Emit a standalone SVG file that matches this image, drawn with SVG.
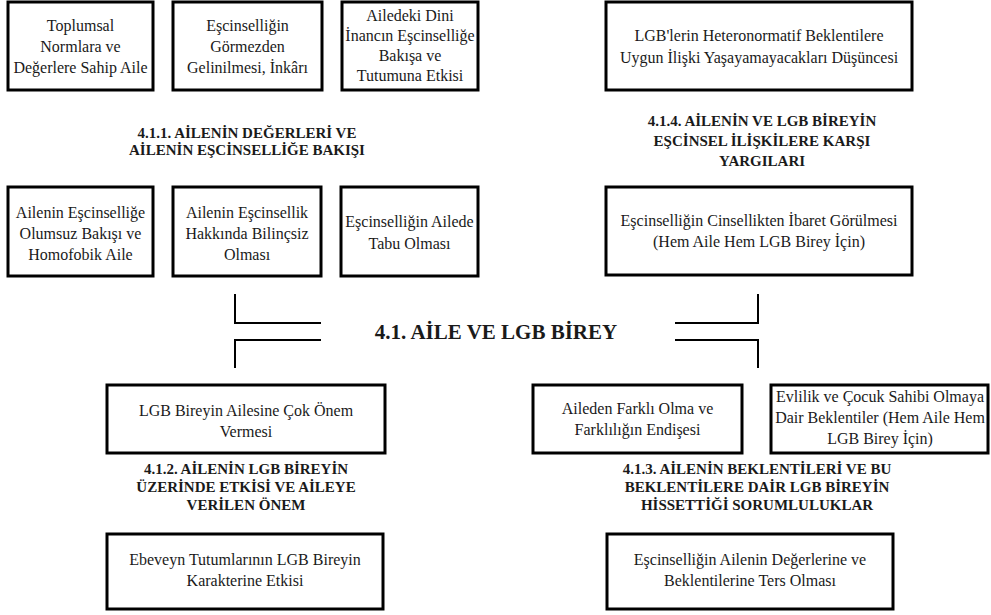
<svg xmlns="http://www.w3.org/2000/svg" width="991" height="615" viewBox="0 0 991 615">
<style>
.box{fill:#fff;stroke:#000;stroke-width:3}
.t{font-family:"Liberation Serif","Times New Roman",serif;font-size:16px;fill:#1a1a1a;text-anchor:middle}
.h{font-family:"Liberation Serif","Times New Roman",serif;font-size:15px;font-weight:bold;fill:#1a1a1a;text-anchor:middle}
.title{font-family:"Liberation Serif","Times New Roman",serif;font-size:21px;font-weight:bold;fill:#1a1a1a;text-anchor:middle}
.c{fill:none;stroke:#000;stroke-width:2}
</style>
<rect width="991" height="615" fill="#fff"/>

<g id="n-toplumsal"><rect class="box" x="8" y="2" width="145" height="88"/>
<text class="t" x="80.5" y="31">Toplumsal</text><text class="t" x="80.5" y="52">Normlara ve</text><text class="t" x="80.5" y="73">Değerlere Sahip Aile</text></g>

<g id="n-gormezden"><rect class="box" x="173" y="2" width="149" height="88"/>
<text class="t" x="247.5" y="31">Eşcinselliğin</text><text class="t" x="247.5" y="52">Görmezden</text><text class="t" x="247.5" y="73">Gelinilmesi, İnkârı</text></g>

<g id="n-dini"><rect class="box" x="342" y="2" width="136" height="88"/>
<text class="t" x="410" y="21">Ailedeki Dini</text><text class="t" x="410" y="41">İnancın Eşcinselliğe</text><text class="t" x="410" y="61">Bakışa ve</text><text class="t" x="410" y="81">Tutumuna Etkisi</text></g>

<g id="n-heteronormatif"><rect class="box" x="606" y="2" width="306" height="88"/>
<text class="t" x="759" y="41">LGB'lerin Heteronormatif Beklentilere</text><text class="t" x="759" y="63">Uygun İlişki Yaşayamayacakları Düşüncesi</text></g>

<g id="h-411"><text class="h" x="247" y="138">4.1.1. AİLENİN DEĞERLERİ VE</text><text class="h" x="247" y="155">AİLENİN EŞCİNSELLİĞE BAKIŞI</text></g>

<g id="h-414"><text class="h" x="762" y="126">4.1.4. AİLENİN VE LGB BİREYİN</text><text class="h" x="762" y="146">EŞCİNSEL İLİŞKİLERE KARŞI</text><text class="h" x="762" y="166">YARGILARI</text></g>

<g id="n-olumsuz"><rect class="box" x="8" y="187" width="145" height="89"/>
<text class="t" x="80.5" y="218">Ailenin Eşcinselliğe</text><text class="t" x="80.5" y="239">Olumsuz Bakışı ve</text><text class="t" x="80.5" y="260">Homofobik Aile</text></g>

<g id="n-bilincsiz"><rect class="box" x="173" y="187" width="148" height="89"/>
<text class="t" x="247" y="218">Ailenin Eşcinsellik</text><text class="t" x="247" y="239">Hakkında Bilinçsiz</text><text class="t" x="247" y="260">Olması</text></g>

<g id="n-tabu"><rect class="box" x="341" y="187" width="137" height="89"/>
<text class="t" x="409.5" y="227">Eşcinselliğin Ailede</text><text class="t" x="409.5" y="249">Tabu Olması</text></g>

<g id="n-cinsellik"><rect class="box" x="606" y="187" width="306" height="88"/>
<text class="t" x="759" y="226">Eşcinselliğin Cinsellikten İbaret Görülmesi</text><text class="t" x="759" y="247">(Hem Aile Hem LGB Birey İçin)</text></g>

<g id="n-center"><text class="title" x="496" y="339">4.1. AİLE VE LGB BİREY</text></g>

<g id="connectors">
<path class="c" d="M235 294 V323 H321"/>
<path class="c" d="M235 368 V340 H321"/>
<path class="c" d="M758 294 V323 H675"/>
<path class="c" d="M758 368 V340 H675"/>
</g>

<g id="n-onem"><rect class="box" x="107" y="385" width="278" height="68"/>
<text class="t" x="246" y="416">LGB Bireyin Ailesine Çok Önem</text><text class="t" x="246" y="437">Vermesi</text></g>

<g id="n-farkli"><rect class="box" x="533" y="385" width="209" height="68"/>
<text class="t" x="637.5" y="414">Aileden Farklı Olma ve</text><text class="t" x="637.5" y="435">Farklılığın Endişesi</text></g>

<g id="n-evlilik"><rect class="box" x="771" y="385" width="217" height="68"/>
<text class="t" x="880" y="402">Evlilik ve Çocuk Sahibi Olmaya</text><text class="t" x="880" y="423">Dair Beklentiler (Hem Aile Hem</text><text class="t" x="880" y="444">LGB Birey İçin)</text></g>

<g id="h-412"><text class="h" x="246" y="474">4.1.2. AİLENİN LGB BİREYİN</text><text class="h" x="246" y="492">ÜZERİNDE ETKİSİ VE AİLEYE</text><text class="h" x="246" y="510">VERİLEN ÖNEM</text></g>

<g id="h-413"><text class="h" x="757" y="474">4.1.3. AİLENİN BEKLENTİLERİ VE BU</text><text class="h" x="757" y="492">BEKLENTİLERE DAİR LGB BİREYİN</text><text class="h" x="757" y="510">HİSSETTİĞİ SORUMLULUKLAR</text></g>

<g id="n-ebeveyn"><rect class="box" x="107" y="534" width="276" height="75"/>
<text class="t" x="245" y="565">Ebeveyn Tutumlarının LGB Bireyin</text><text class="t" x="245" y="586">Karakterine Etkisi</text></g>

<g id="n-ters"><rect class="box" x="607" y="534" width="286" height="75"/>
<text class="t" x="750" y="565">Eşcinselliğin Ailenin Değerlerine ve</text><text class="t" x="750" y="586">Beklentilerine Ters Olması</text></g>
</svg>
